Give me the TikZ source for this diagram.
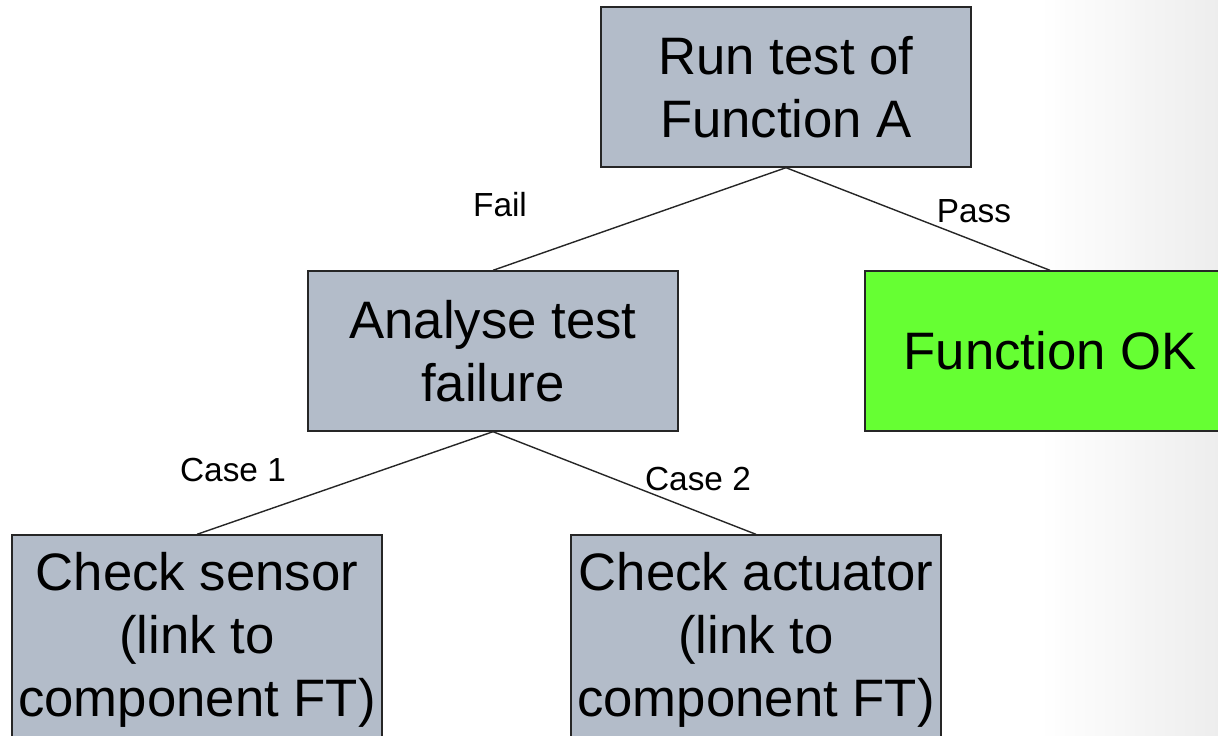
\documentclass[tikz,border=0pt]{standalone}
\usepackage{fontspec}
\setmainfont{Liberation Sans}
\definecolor{boxgrey}{RGB}{179,188,201}
\definecolor{okgreen}{RGB}{102,255,51}
\begin{document}
\begin{tikzpicture}[x=0.02cm,y=-0.02cm]
	\useasboundingbox (0,0) rectangle (1218,735);
	\clip (0,0) rectangle (1218,735);
	% faint slide background on the right
	\shade[left color=white,right color=black!7] (1040,0) rectangle (1218,735);
	\begin{scope}[every node/.style={rectangle,draw=black!85,thick,fill=boxgrey,align=center,
	    minimum width=7.4cm,minimum height=3.2cm,font=\fontsize{30}{36}\selectfont}]
	  \node (run) at (786,87) {Run test of\\Function A};
	  \node (analyse) at (493,351) {Analyse test\\failure};
	  \node[fill=okgreen] (ok) at (1050,351) {Function OK};
	  \node[minimum height=4.2cm] (sensor) at (197,640) {Check sensor\\(link to\\component FT)};
	  \node[minimum height=4.2cm] (actuator) at (756,640) {Check actuator\\(link to\\component FT)};
	\end{scope}
	\begin{scope}[every edge/.style={draw=black!85,line width=0.8pt}]
	  \path (run.south) edge (analyse.north);
	  \path (run.south) edge (ok.north);
	  \path (analyse.south) edge (sensor.north);
	  \path (analyse.south) edge (actuator.north);
	\end{scope}
	\begin{scope}[every node/.style={inner sep=0pt,font=\fontsize{19}{23}\selectfont}]
	  \node (fail) at (500,205) {Fail};
	  \node (pass) at (974,211) {Pass};
	  \node (case1) at (233,470) {Case 1};
	  \node (case2) at (698,479) {Case 2};
	\end{scope}
\end{tikzpicture}
\end{document}
